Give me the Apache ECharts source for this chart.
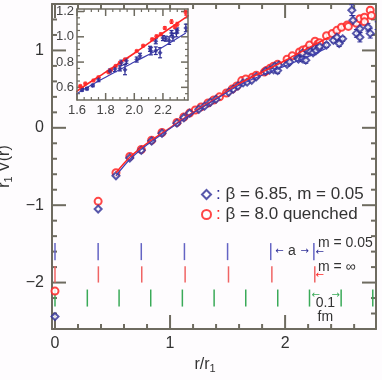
<!DOCTYPE html>
<html>
<head>
<meta charset="utf-8">
<script src="https://cdn.jsdelivr.net/npm/echarts@6/dist/echarts.min.js"></script>
<style>
  html, body { margin: 0; padding: 0; background: #fefcfe; }
  #chart { width: 382px; height: 380px; }
</style>
</head>
<body>
<div id="chart"></div>
<script>
// blue diamonds: beta = 6.85, m = 0.05  -> [r/r1, r1 V(r), error]
const bluePoints = [
  [0, -2.44, 0], [0.375, -1.05, 0], [0.53, -0.62, 0], [0.65, -0.39, 0], [0.75, -0.29, 0],
  [0.84, -0.17, 0], [0.93, -0.07, 0], [1.06, 0.06, 0], [1.12, 0.13, 0], [1.17, 0.19, 0],
  [1.25, 0.24, 0], [1.30, 0.28, 0], [1.35, 0.33, 0], [1.40, 0.37, 0], [1.51, 0.46, 0],
  [1.55, 0.50, 0], [1.59, 0.54, 0],
  [1.635, 0.58, 0.01], [1.67, 0.59, 0.01], [1.71, 0.615, 0.01], [1.75, 0.66, 0.015],
  [1.83, 0.73, 0.015], [1.865, 0.745, 0.02], [1.90, 0.75, 0.02], [1.91, 0.795, 0.02],
  [1.935, 0.74, 0.04], [1.945, 0.81, 0.02], [2.017, 0.82, 0.02], [2.04, 0.85, 0.02],
  [2.11, 0.905, 0.02], [2.116, 0.887, 0.03], [2.15, 0.89, 0.03], [2.15, 0.965, 0.02],
  [2.18, 0.874, 0.04], [2.20, 0.99, 0.02], [2.22, 0.985, 0.02], [2.243, 0.97, 0.03],
  [2.26, 1.03, 0.02], [2.27, 0.997, 0.03], [2.294, 1.03, 0.03], [2.30, 1.05, 0.02],
  [2.36, 1.07, 0.03],
  [2.42, 1.13, 0.03], [2.45, 1.17, 0.03], [2.47, 1.09, 0.04], [2.50, 1.15, 0.03],
  [2.58, 1.52, 0.07], [2.59, 1.39, 0.06], [2.62, 1.22, 0.05], [2.65, 1.28, 0.05],
  [2.65, 1.17, 0.06], [2.72, 1.30, 0.05], [2.74, 1.22, 0.06], [2.80, 1.32, 0.05]
];
// red circles: beta = 8.0 quenched
const redPoints = [
  [0, -2.11, 0], [0.375, -0.95, 0], [0.53, -0.58, 0], [0.65, -0.37, 0], [0.75, -0.28, 0],
  [0.84, -0.16, 0], [0.93, -0.06, 0], [1.06, 0.07, 0], [1.12, 0.14, 0], [1.17, 0.19, 0],
  [1.22, 0.23, 0], [1.27, 0.27, 0], [1.33, 0.32, 0], [1.38, 0.36, 0], [1.43, 0.40, 0],
  [1.49, 0.45, 0], [1.54, 0.50, 0], [1.58, 0.54, 0],
  [1.623, 0.61, 0.005], [1.658, 0.63, 0.005], [1.715, 0.655, 0.005], [1.75, 0.68, 0.005],
  [1.82, 0.72, 0.005], [1.838, 0.74, 0.005], [1.87, 0.77, 0.005], [1.90, 0.795, 0.005],
  [1.935, 0.82, 0.005], [2.017, 0.887, 0.005], [2.062, 0.93, 0.005], [2.125, 0.98, 0.008],
  [2.155, 1.005, 0.008], [2.185, 1.02, 0.01], [2.213, 1.07, 0.01], [2.26, 1.12, 0.015],
  [2.283, 1.08, 0.015], [2.30, 1.10, 0.015], [2.36, 1.19, 0.02],
  [2.41, 1.22, 0.02], [2.45, 1.26, 0.02], [2.49, 1.30, 0.02], [2.54, 1.33, 0.02],
  [2.55, 1.31, 0.02], [2.62, 1.35, 0.03], [2.65, 1.41, 0.03], [2.69, 1.43, 0.03],
  [2.69, 1.37, 0.03], [2.74, 1.52, 0.04], [2.75, 1.45, 0.03]
];
// fit curves
const blueFit = [[0.53, -0.62], [0.65, -0.41], [0.8, -0.22], [1.0, -0.01], [1.2, 0.19],
  [1.4, 0.37], [1.6, 0.55], [1.8, 0.68], [2.0, 0.80], [2.2, 0.92], [2.36, 1.03]];
const redFit = [[0.53, -0.58], [0.65, -0.38], [0.8, -0.2], [1.0, 0.0], [1.2, 0.2],
  [1.4, 0.38], [1.6, 0.57], [1.8, 0.72], [2.0, 0.87], [2.2, 1.03], [2.38, 1.17]];
// lattice spacing marks
const blueMarks = [0, 0.375, 0.75, 1.125, 1.5, 1.875, 2.25];
const redMarks = [0, 0.377, 0.754, 1.131, 1.508, 1.885, 2.258];
const fmMarks = [0, 0.281, 0.557, 0.832, 1.107, 1.383, 1.658, 1.936, 2.212, 2.487, 2.762];

// tick labels and tick positions
const mainXMajor = [0, 1, 2];
const mainXMinor = [0.2, 0.4, 0.6, 0.8, 1.2, 1.4, 1.6, 1.8, 2.2, 2.4, 2.6];
const mainYMajor = [-2, -1, 0, 1];
const mainYMinor = [-2.4, -2.2, -1.8, -1.6, -1.4, -1.2, -0.8, -0.6, -0.4, -0.2, 0.2, 0.4, 0.6, 0.8, 1.2, 1.4];
const insetXMajor = [1.6, 1.8, 2.0, 2.2];
const insetXMinor = [1.65, 1.7, 1.75, 1.85, 1.9, 1.95, 2.05, 2.1, 2.15, 2.25, 2.3, 2.35];
const insetYMajor = [0.6, 0.8, 1.0, 1.2];
const insetYMinor = [0.55, 0.65, 0.7, 0.75, 0.85, 0.9, 0.95, 1.05, 1.1, 1.15];

const BLUE = '#2e2e96';
const RED = '#ff2626';
const GREEN = '#3aaa58';
const AX = '#6e6b60';
const FONT = 'Liberation Sans';

// panel frames and ranges
const MAIN = { left: 52, top: 4, width: 324, height: 325, x: [-0.026, 2.79], y: [-2.6, 1.6] };
const INSET = { left: 77, top: 9, width: 111, height: 91, x: [1.6, 2.375], y: [0.5, 1.22] };

const chart = echarts.init(document.getElementById('chart'));

function minus(v) {
  return v < 0 ? '\u2212' + Math.abs(v) : String(v);
}

function axis(grid, pos, min, max, o) {
  return {
    type: 'value', gridIndex: grid, position: pos, min: min, max: max, z: o.z || 0,
    axisLine: { show: true, onZero: false, lineStyle: { color: AX, width: o.w || 2 } },
    axisTick: { show: false },
    axisLabel: o.labels ? Object.assign({ show: true, fontFamily: FONT, color: '#333' }, o.labels) : { show: false },
    splitLine: { show: false },
    name: o.name || '', nameLocation: 'middle', nameGap: o.nameGap || 15, nameTextStyle: o.nameStyle || {}
  };
}

const subStyle = { fontSize: 11, fontFamily: FONT, color: '#333', padding: [9, 0, 0, 0] };

const grids = [
  { left: MAIN.left, top: MAIN.top, width: MAIN.width, height: MAIN.height },
  { left: INSET.left, top: INSET.top, width: INSET.width, height: INSET.height, show: true,
    backgroundColor: '#ffffff', borderWidth: 0, z: 4 }
];
grids.forEach(g => { g.outerBoundsMode = 'none'; g.containLabel = false; });

const xAxes = [
  axis(0, 'bottom', MAIN.x[0], MAIN.x[1], {
    labels: { fontSize: 16, margin: 7, customValues: mainXMajor, formatter: minus },
    name: 'r/r{s|1}', nameGap: 25,
    nameStyle: { fontSize: 16, fontFamily: FONT, color: '#333', padding: [0, 18, 0, 0], rich: { s: subStyle } } }),
  axis(0, 'top', MAIN.x[0], MAIN.x[1], {}),
  axis(1, 'bottom', INSET.x[0], INSET.x[1], { w: 1.5, z: 6,
    labels: { fontSize: 13, margin: 4, color: '#444', customValues: insetXMajor, formatter: v => v.toFixed(1) } }),
  axis(1, 'top', INSET.x[0], INSET.x[1], { w: 1.5, z: 6 })
];
const yAxes = [
  axis(0, 'left', MAIN.y[0], MAIN.y[1], {
    labels: { fontSize: 16, margin: 8, customValues: mainYMajor, formatter: minus },
    name: 'r{s|1} V(r)', nameGap: 23,
    nameStyle: { fontSize: 16, fontFamily: FONT, color: '#333', rich: { s: subStyle } } }),
  axis(0, 'right', MAIN.y[0], MAIN.y[1], {}),
  axis(1, 'left', INSET.y[0], INSET.y[1], { w: 1.5, z: 6,
    labels: { fontSize: 13, margin: 3, color: '#444', customValues: insetYMajor, formatter: v => v.toFixed(1) } }),
  axis(1, 'right', INSET.y[0], INSET.y[1], { w: 1.5, z: 6 })
];

// inward ticks on both opposite frame edges, placed through the axes' own scales
function tickSeries(dir, values, len, p, width) {
  return {
    type: 'custom', silent: true, clip: false, data: values.map(v => [v]),
    renderItem: function (params, api) {
      const v = api.value(0);
      const st = { stroke: AX, lineWidth: width };
      let a, b, l1, l2;
      if (dir === 'x') {
        a = api.coord([v, p.y[0]]); b = api.coord([v, p.y[1]]);
        l1 = { x1: a[0], y1: a[1], x2: a[0], y2: a[1] - len };
        l2 = { x1: b[0], y1: b[1], x2: b[0], y2: b[1] + len };
      } else {
        a = api.coord([p.x[0], v]); b = api.coord([p.x[1], v]);
        l1 = { x1: a[0], y1: a[1], x2: a[0] + len, y2: a[1] };
        l2 = { x1: b[0], y1: b[1], x2: b[0] - len, y2: b[1] };
      }
      return { type: 'group', children: [{ type: 'line', shape: l1, style: st }, { type: 'line', shape: l2, style: st }] };
    }
  };
}

function errorBars(color, width, cap) {
  return function (params, api) {
    const e = api.value(2);
    if (!e) return null;
    const x = api.value(0), y = api.value(1);
    const lo = api.coord([x, y - e]), hi = api.coord([x, y + e]);
    const st = { stroke: color, lineWidth: width };
    return { type: 'group', children: [
      { type: 'line', shape: { x1: lo[0], y1: lo[1], x2: hi[0], y2: hi[1] }, style: st },
      { type: 'line', shape: { x1: lo[0] - cap, y1: lo[1], x2: lo[0] + cap, y2: lo[1] }, style: st },
      { type: 'line', shape: { x1: hi[0] - cap, y1: hi[1], x2: hi[0] + cap, y2: hi[1] }, style: st }
    ] };
  };
}

function markRow(color, y0, y1) {
  return function (params, api) {
    const x = api.value(0);
    const a = api.coord([x, y0]), b = api.coord([x, y1]);
    return { type: 'line', shape: { x1: a[0], y1: a[1], x2: b[0], y2: b[1] },
      style: { stroke: color, lineWidth: 1.5 } };
  };
}

const series = [];
// main panel
series.push(tickSeries('x', mainXMajor, 14, MAIN, 2));
series.push(tickSeries('x', mainXMinor, 5, MAIN, 2));
series.push(tickSeries('y', mainYMajor, 14, MAIN, 2));
series.push(tickSeries('y', mainYMinor, 5, MAIN, 2));
series.push({ type: 'custom', name: 'blueMarks', data: blueMarks.map(v => [v]),
  renderItem: markRow('#6464c4', -1.49, -1.71) });
series.push({ type: 'custom', name: 'redMarks', data: redMarks.map(v => [v]),
  renderItem: markRow('#f06464', -1.79, -2.0) });
series.push({ type: 'custom', name: 'fmMarks', data: fmMarks.map(v => [v]),
  renderItem: markRow(GREEN, -2.09, -2.31) });
series.push({ type: 'line', name: 'redFit', data: redFit, smooth: 0.3,
  showSymbol: false, lineStyle: { color: RED, width: 1.6 } });
series.push({ type: 'line', name: 'blueFit', data: blueFit, smooth: 0.3,
  showSymbol: false, lineStyle: { color: '#4040b0', width: 1.2 } });
series.push({ type: 'custom', name: 'redErr', data: redPoints, clip: true,
  renderItem: errorBars(RED, 1, 2) });
series.push({ type: 'scatter', name: '\u03b2 = 8.0 quenched',
  data: redPoints.map(p => [p[0], p[1]]), symbol: 'emptyCircle', symbolSize: 7,
  itemStyle: { color: RED, borderColor: RED, borderWidth: 1.2, opacity: 0.85 } });
series.push({ type: 'custom', name: 'blueErr', data: bluePoints, clip: true,
  renderItem: errorBars(BLUE, 1, 2.5) });
series.push({ type: 'scatter', name: '\u03b2 = 6.85, m = 0.05',
  data: bluePoints.map(p => [p[0], p[1]]), symbol: 'emptyDiamond', symbolSize: 7,
  itemStyle: { color: BLUE, borderColor: BLUE, borderWidth: 1.2 } });
series.forEach(s => { s.xAxisIndex = 0; s.yAxisIndex = 0; });
// inset panel
const inset = [
  tickSeries('x', insetXMajor, 7, INSET, 1.5),
  tickSeries('x', insetXMinor, 3, INSET, 1.2),
  tickSeries('y', insetYMajor, 7, INSET, 1.5),
  tickSeries('y', insetYMinor, 3, INSET, 1.2),
  { type: 'line', name: 'redFitIn', data: redFit, smooth: 0.3,
    showSymbol: false, lineStyle: { color: RED, width: 1.6 } },
  { type: 'line', name: 'blueFitIn', data: blueFit, smooth: 0.3,
    showSymbol: false, lineStyle: { color: '#4040b0', width: 1.2 } },
  { type: 'custom', name: 'redErrIn', data: redPoints, clip: true, renderItem: errorBars(RED, 1, 1.5) },
  { type: 'scatter', name: 'redIn', data: redPoints.map(p => [p[0], p[1]]),
    symbol: 'circle', symbolSize: 4.5, itemStyle: { color: RED } },
  { type: 'custom', name: 'blueErrIn', data: bluePoints, clip: true, renderItem: errorBars(BLUE, 1.2, 2) },
  { type: 'scatter', name: 'blueIn', data: bluePoints.map(p => [p[0], p[1]]),
    symbol: 'diamond', symbolSize: 5, itemStyle: { color: BLUE } }
];
inset.forEach(s => { s.xAxisIndex = 2; s.yAxisIndex = 2; s.z = 5; series.push(s); });

const option = {
  animation: false,
  backgroundColor: '#fefcfe',
  grid: grids,
  xAxis: xAxes,
  yAxis: yAxes,
  legend: {
    data: ['\u03b2 = 6.85, m = 0.05', '\u03b2 = 8.0 quenched'],
    orient: 'vertical', left: 196, top: 181, itemWidth: 9, itemHeight: 9, itemGap: 3,
    selectedMode: false,
    textStyle: { fontSize: 17, fontFamily: FONT, color: '#333',
      rich: { b: { color: BLUE, fontSize: 17, fontFamily: FONT }, r: { color: RED, fontSize: 17, fontFamily: FONT } } },
    formatter: name => (name.indexOf('6.85') >= 0 ? '{b|:} ' : '{r|:} ') + name
  },
  series: series
};
chart.setOption(option);

// annotations of the lattice-spacing rows
const P = (x, y) => chart.convertToPixel({ gridIndex: 0 }, [x, y]);
function txt(x, y, s, color, size, align, family) {
  const p = P(x, y);
  return { type: 'text', x: p[0], y: p[1], z: 50,
    style: { text: s, fill: color, fontSize: size, fontFamily: family || FONT, align: align || 'center', verticalAlign: 'middle' } };
}
chart.setOption({
  graphic: [
    txt(2.06, -1.6, 'a', '#333', 14),
    txt(1.95, -1.6, '\u2190', BLUE, 10, 'center', 'DejaVu Sans'),
    txt(2.17, -1.6, '\u2192', BLUE, 10, 'center', 'DejaVu Sans'),
    txt(2.30, -1.61, '\u2190', BLUE, 10, 'center', 'DejaVu Sans'),
    txt(2.285, -1.49, 'm = 0.05', '#333', 14, 'left'),
    txt(2.285, -1.8, 'm = \u221e', '#333', 14, 'left'),
    txt(2.30, -1.91, '\u2190', RED, 10, 'center', 'DejaVu Sans'),
    txt(2.265, -2.16, '\u2190', GREEN, 10, 'center', 'DejaVu Sans'),
    txt(2.44, -2.16, '\u2192', GREEN, 10, 'center', 'DejaVu Sans'),
    txt(2.35, -2.27, '0.1', '#333', 14),
    txt(2.35, -2.45, 'fm', '#333', 14)
  ]
});
</script>
</body>
</html>
